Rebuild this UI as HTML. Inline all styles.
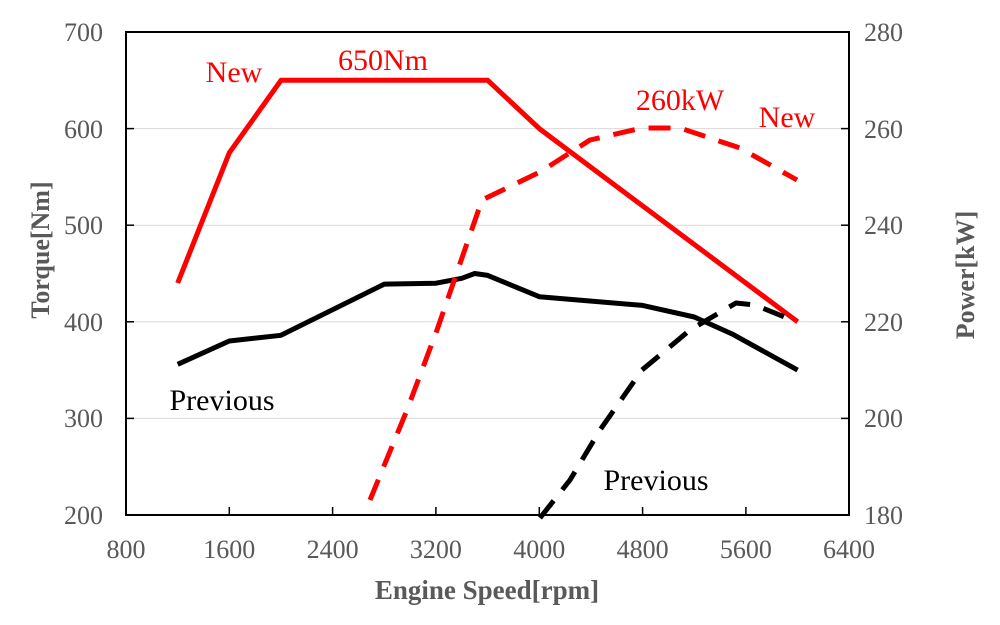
<!DOCTYPE html>
<html><head><meta charset="utf-8"><style>html,body{margin:0;padding:0;background:#fff}</style></head>
<body>
<svg width="1000" height="620" viewBox="0 0 1000 620" xmlns="http://www.w3.org/2000/svg" font-family="Liberation Serif, serif">
<g stroke="#d9d9d9" stroke-width="1">
<line x1="126" y1="128.6" x2="849" y2="128.6"/><line x1="126" y1="225.2" x2="849" y2="225.2"/>
<line x1="126" y1="321.8" x2="849" y2="321.8"/><line x1="126" y1="418.4" x2="849" y2="418.4"/>
</g>
<rect x="126" y="32" width="723" height="483" fill="none" stroke="#000" stroke-width="2"/>
<g stroke="#000" stroke-width="1.5">
<line x1="126" y1="128.6" x2="134" y2="128.6"/><line x1="126" y1="225.2" x2="134" y2="225.2"/><line x1="126" y1="321.8" x2="134" y2="321.8"/><line x1="126" y1="418.4" x2="134" y2="418.4"/>
<line x1="849" y1="128.6" x2="841" y2="128.6"/><line x1="849" y1="225.2" x2="841" y2="225.2"/><line x1="849" y1="321.8" x2="841" y2="321.8"/><line x1="849" y1="418.4" x2="841" y2="418.4"/>
<line x1="229.3" y1="515" x2="229.3" y2="507"/><line x1="332.6" y1="515" x2="332.6" y2="507"/><line x1="435.9" y1="515" x2="435.9" y2="507"/><line x1="539.3" y1="515" x2="539.3" y2="507"/><line x1="642.6" y1="515" x2="642.6" y2="507"/><line x1="745.9" y1="515" x2="745.9" y2="507"/>
</g>
<g fill="#595959" font-size="26" text-anchor="end">
<text x="103" y="41">700</text><text x="103" y="138">600</text><text x="103" y="234">500</text><text x="103" y="331">400</text><text x="103" y="427">300</text><text x="103" y="524">200</text>
</g>
<g fill="#595959" font-size="26" text-anchor="start">
<text x="864" y="41">280</text><text x="864" y="138">260</text><text x="864" y="234">240</text><text x="864" y="331">220</text><text x="864" y="427">200</text><text x="864" y="524">180</text>
</g>
<g fill="#595959" font-size="26" text-anchor="middle">
<text x="126" y="558">800</text><text x="229.3" y="558">1600</text><text x="332.6" y="558">2400</text><text x="435.9" y="558">3200</text><text x="539.3" y="558">4000</text><text x="642.6" y="558">4800</text><text x="745.9" y="558">5600</text><text x="849" y="558">6400</text>
</g>
<text x="487" y="599" fill="#595959" font-size="27" font-weight="bold" text-anchor="middle">Engine Speed[rpm]</text>
<text transform="translate(49,250) rotate(-90)" fill="#595959" font-size="26" font-weight="bold" text-anchor="middle">Torque[Nm]</text>
<text transform="translate(974,275) rotate(-90)" fill="#595959" font-size="26" font-weight="bold" text-anchor="middle">Power[kW]</text>
<polyline fill="none" stroke="#ff0000" stroke-width="5" stroke-linejoin="round" points="177.7,283 229.3,152.8 281,80.3 487.7,80.3 539.3,128.6 642.6,205.9 694.3,244.5 797.6,321.8"/>
<polyline fill="none" stroke="#000" stroke-width="5" stroke-linejoin="round" points="177.7,364.3 229.3,341 281,335.3 384.3,284.1 436,283.2 461.8,278.3 474.7,273.5 487.7,275.4 539.3,296.7 642.6,305.4 694.3,317 733,334.4 797.6,370.1"/>
<polyline fill="none" stroke="#ff0000" stroke-width="5" stroke-dasharray="22,14" stroke-linejoin="round" points="370,500 407,410 437,330 482,200 540,172 590,140 642,128 680,128 740,148 797,180"/>
<polyline fill="none" stroke="#000" stroke-width="5" stroke-dasharray="22,14" stroke-linejoin="round" points="540,518 570,480 600,430 642,370 690,330 736,303 755,305 797,322"/>
<g font-size="30">
<text x="234" y="82" fill="#ff0000" text-anchor="middle">New</text>
<text x="383" y="70" fill="#ff0000" text-anchor="middle">650Nm</text>
<text x="680" y="110" fill="#ff0000" text-anchor="middle">260kW</text>
<text x="787" y="127" fill="#ff0000" text-anchor="middle">New</text>
<text x="222" y="410" fill="#000" text-anchor="middle">Previous</text>
<text x="656" y="490" fill="#000" text-anchor="middle">Previous</text>
</g>
</svg>
</body></html>
